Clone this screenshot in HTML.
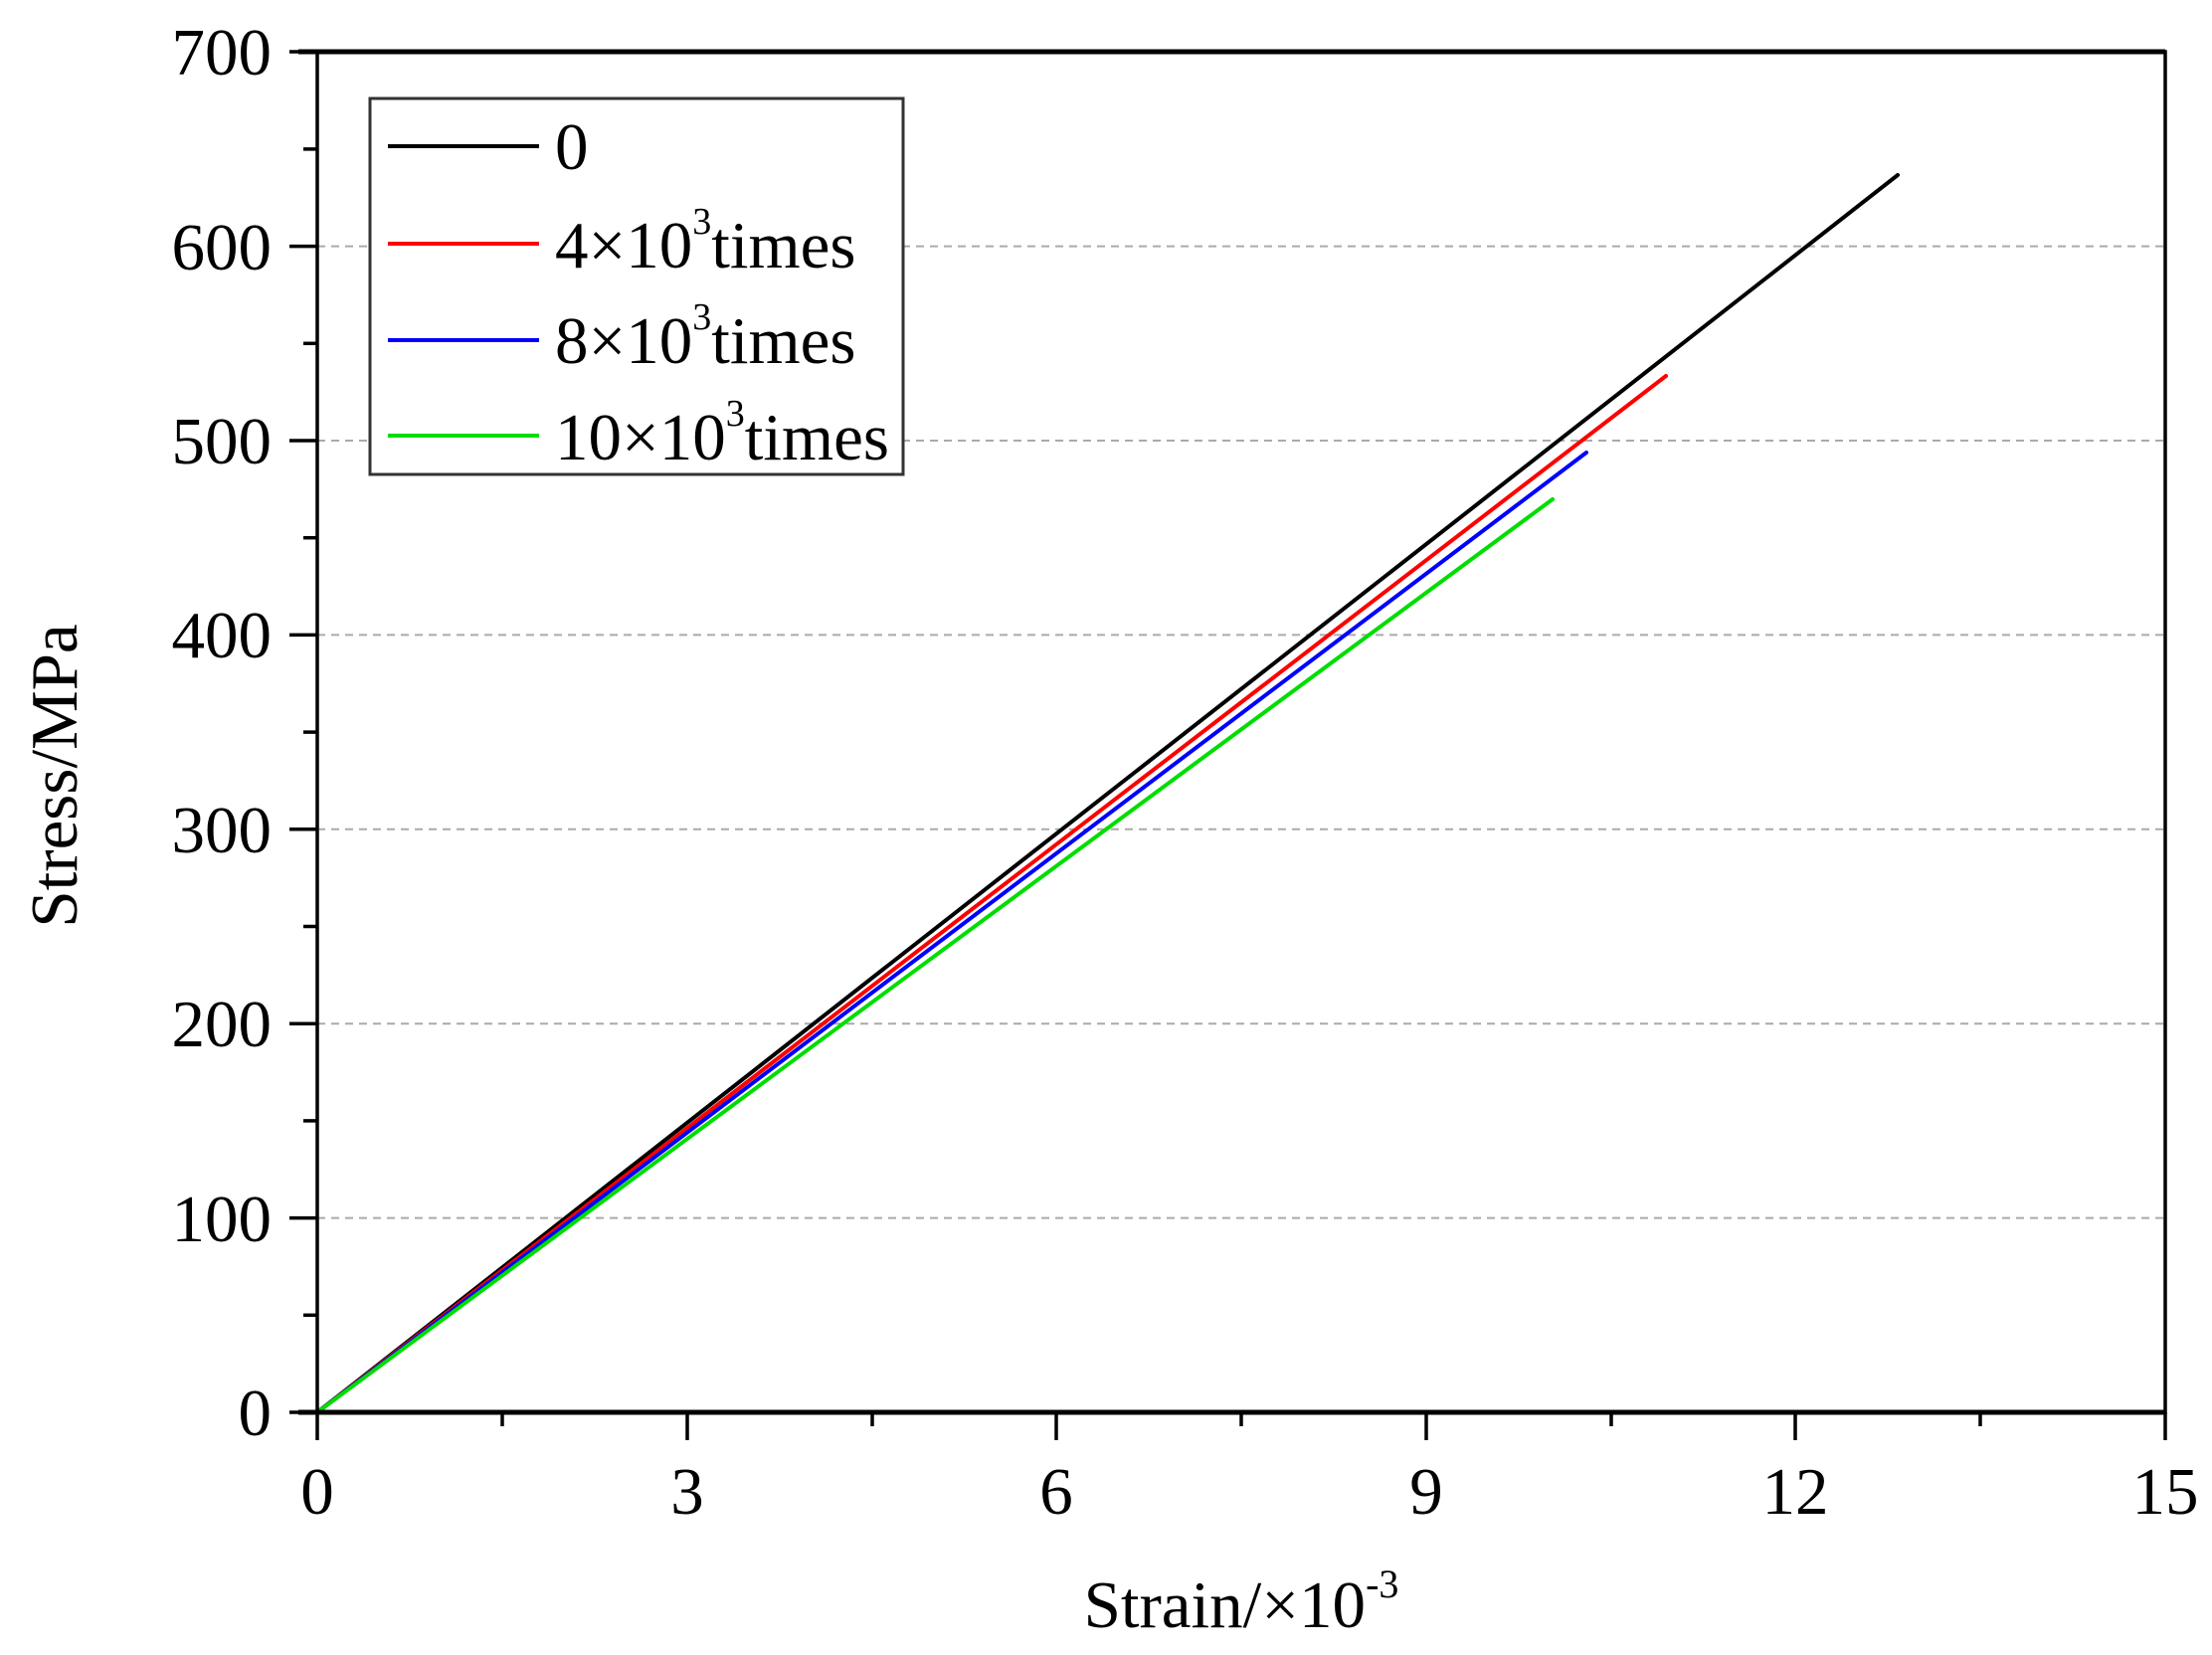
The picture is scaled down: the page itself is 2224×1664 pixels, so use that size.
<!DOCTYPE html>
<html><head><meta charset="utf-8"><style>
html,body{margin:0;padding:0;background:#fff}
svg{display:block}
text{font-family:"Liberation Serif",serif;fill:#000}
</style></head><body>
<svg width="2224" height="1664" viewBox="0 0 2224 1664" xmlns="http://www.w3.org/2000/svg">
<g stroke="#aaa" stroke-width="2" stroke-dasharray="8,6">
<line x1="319" x2="2177" y1="1224.6" y2="1224.6"/>
<line x1="319" x2="2177" y1="1029.2" y2="1029.2"/>
<line x1="319" x2="2177" y1="833.8" y2="833.8"/>
<line x1="319" x2="2177" y1="638.4" y2="638.4"/>
<line x1="319" x2="2177" y1="443" y2="443"/>
<line x1="319" x2="2177" y1="247.6" y2="247.6"/>
</g>
<g stroke-width="4" fill="none" stroke-linecap="round">
<line x1="319" y1="1420" x2="1908" y2="176" stroke="#000"/>
<line x1="319" y1="1420" x2="1675" y2="378" stroke="#f00"/>
<line x1="319" y1="1420" x2="1595" y2="455" stroke="#00f"/>
<line x1="319" y1="1420" x2="1561" y2="502" stroke="#0d0"/>
</g>
<rect x="319" y="52" width="1858" height="1368" fill="none" stroke="#000" stroke-width="3.5"/>
<line x1="300" x2="2177" y1="52" y2="52" stroke="#000" stroke-width="5"/>
<line x1="300" x2="2177" y1="1420" y2="1420" stroke="#000" stroke-width="5"/>
<g stroke="#000" stroke-width="3.5">
<line x1="291" x2="319" y1="1420" y2="1420"/><line x1="305" x2="319" y1="1322.3" y2="1322.3"/>
<line x1="291" x2="319" y1="1224.6" y2="1224.6"/><line x1="305" x2="319" y1="1126.9" y2="1126.9"/>
<line x1="291" x2="319" y1="1029.2" y2="1029.2"/><line x1="305" x2="319" y1="931.5" y2="931.5"/>
<line x1="291" x2="319" y1="833.8" y2="833.8"/><line x1="305" x2="319" y1="736.1" y2="736.1"/>
<line x1="291" x2="319" y1="638.4" y2="638.4"/><line x1="305" x2="319" y1="540.7" y2="540.7"/>
<line x1="291" x2="319" y1="443" y2="443"/><line x1="305" x2="319" y1="345.3" y2="345.3"/>
<line x1="291" x2="319" y1="247.6" y2="247.6"/><line x1="305" x2="319" y1="149.9" y2="149.9"/>
<line x1="291" x2="319" y1="52" y2="52"/>
<line x1="319" x2="319" y1="1420" y2="1448"/><line x1="505" x2="505" y1="1420" y2="1434"/>
<line x1="691" x2="691" y1="1420" y2="1448"/><line x1="877" x2="877" y1="1420" y2="1434"/>
<line x1="1062" x2="1062" y1="1420" y2="1448"/><line x1="1248" x2="1248" y1="1420" y2="1434"/>
<line x1="1434" x2="1434" y1="1420" y2="1448"/><line x1="1620" x2="1620" y1="1420" y2="1434"/>
<line x1="1805" x2="1805" y1="1420" y2="1448"/><line x1="1991" x2="1991" y1="1420" y2="1434"/>
<line x1="2177" x2="2177" y1="1420" y2="1448"/>
</g>
<g font-size="67" text-anchor="end">
<text x="273" y="1443">0</text><text x="273" y="1248">100</text><text x="273" y="1052">200</text>
<text x="273" y="857">300</text><text x="273" y="661">400</text><text x="273" y="466">500</text>
<text x="273" y="271">600</text><text x="273" y="75">700</text>
</g>
<g font-size="67" text-anchor="middle">
<text x="319" y="1522">0</text><text x="691" y="1522">3</text><text x="1062" y="1522">6</text>
<text x="1434" y="1522">9</text><text x="1805" y="1522">12</text><text x="2177" y="1522">15</text>
</g>
<text x="1248" y="1636" font-size="67" text-anchor="middle">Strain/×10<tspan font-size="40" dy="-30">-3</tspan></text>
<text transform="translate(77,780) rotate(-90)" font-size="67" text-anchor="middle">Stress/MPa</text>
<rect x="372" y="99" width="536" height="378" fill="#fff" stroke="#333" stroke-width="3"/>
<g stroke-width="4">
<line x1="390" x2="542" y1="147" y2="147" stroke="#000"/>
<line x1="390" x2="542" y1="245" y2="245" stroke="#f00"/>
<line x1="390" x2="542" y1="342" y2="342" stroke="#00f"/>
<line x1="390" x2="542" y1="438" y2="438" stroke="#0d0"/>
</g>
<g font-size="67">
<text x="558" y="170">0</text>
<text x="558" y="269">4×10<tspan font-size="38" dy="-34">3</tspan><tspan dy="34">times</tspan></text>
<text x="558" y="365">8×10<tspan font-size="38" dy="-34">3</tspan><tspan dy="34">times</tspan></text>
<text x="558" y="462">10×10<tspan font-size="38" dy="-34">3</tspan><tspan dy="34">times</tspan></text>
</g>
</svg>
</body></html>
